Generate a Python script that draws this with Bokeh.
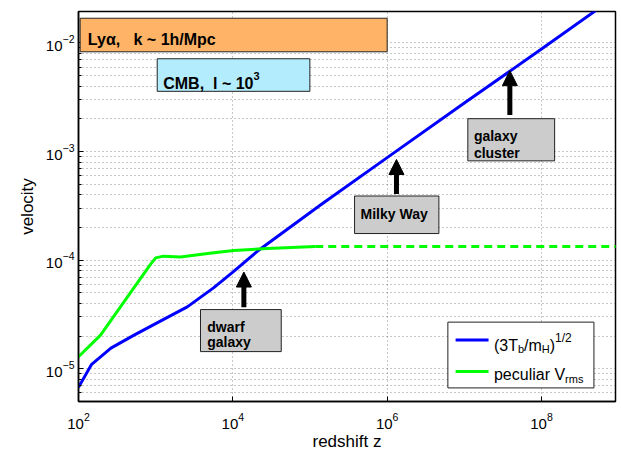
from bokeh.plotting import figure
from bokeh.models import Range1d, FixedTicker, BoxAnnotation, Label, Arrow, NormalHead
from bokeh.embed import file_html
from bokeh.resources import INLINE

# ---- data ----
z_tb = [100, 148, 263, 525, 1150, 2570, 5620, 1.0e4, 2.14e4, 1.38e5, 1.0e6, 1.0e7, 1.0e8, 5.1e8]
v_tb = [6.76e-6, 1.10e-5, 1.55e-5, 2.04e-5, 2.75e-5, 3.72e-5, 5.56e-5, 7.76e-5, 1.23e-4,
        3.24e-4, 8.8e-4, 2.8e-3, 8.8e-3, 2.0e-2]

z_pec = [100, 193, 851, 1000, 1260, 2090, 5010, 1.02e4, 2.8e4, 1.17e5]
v_pec = [1.29e-5, 2.04e-5, 9.1e-5, 1.05e-4, 1.09e-4, 1.07e-4, 1.16e-4, 1.23e-4, 1.28e-4, 1.34e-4]

z_pec_ext = [1.17e5, 1.0e9]
v_pec_ext = [1.34e-4, 1.34e-4]

x_ticks = [1e2, 1e4, 1e6, 1e8]
y_ticks = [1e-5, 1e-4, 1e-3, 1e-2]

FONT = "Liberation Sans"

p = figure(width=619, height=453, x_axis_type="log", y_axis_type="log",
           x_range=Range1d(1e2, 9.1e8), y_range=Range1d(5e-6, 1.95e-2),
           output_backend="svg", toolbar_location=None,
           min_border_left=78, min_border_right=4, min_border_top=11, min_border_bottom=46,
           x_axis_label="redshift z", y_axis_label="velocity")
p.background_fill_color = "white"
p.border_fill_color = "white"
p.outline_line_color = "black"
p.outline_line_width = 1.5
p.outline_line_alpha = 1.0

y_minor = [k * t / 10 for t in y_ticks + [1e-1] for k in range(2, 10)]
p.xaxis.ticker = FixedTicker(ticks=x_ticks, minor_ticks=[])
p.yaxis.ticker = FixedTicker(ticks=y_ticks, minor_ticks=y_minor)

for ax in (p.xaxis, p.yaxis):
    ax.axis_line_width = 1.5
    ax.axis_line_color = "black"
    ax.major_tick_in = 5
    ax.major_tick_out = 0
    ax.minor_tick_in = 3
    ax.minor_tick_out = 0
    ax.major_tick_line_color = "black"
    ax.minor_tick_line_color = "black"
    ax.major_label_text_font = FONT
    ax.major_label_text_font_size = "15px"
    ax.major_label_text_color = "black"
    ax.axis_label_text_font = FONT
    ax.axis_label_text_font_size = "17px"
    ax.axis_label_text_font_style = "normal"
    ax.axis_label_text_color = "black"
p.xaxis.major_label_standoff = 11
p.xaxis.axis_label_standoff = 0
p.yaxis.major_label_standoff = 4
p.yaxis.axis_label_standoff = 6

for g in (p.xgrid, p.ygrid):
    g.grid_line_color = "#333333"
    g.grid_line_dash = "1 3"
    g.grid_line_alpha = 0.55
    g.grid_line_width = 1
p.ygrid.minor_grid_line_color = "#333333"
p.ygrid.minor_grid_line_dash = "1 3"
p.ygrid.minor_grid_line_alpha = 0.55

# ---- curves ----
p.line(z_tb, v_tb, line_color="#0000ff", line_width=3, line_join="round")
p.line(z_pec, v_pec, line_color="#00ff00", line_width=3, line_join="round")
p.line(z_pec_ext, v_pec_ext, line_color="#00ff00", line_width=3, line_dash="8 5")

# ---- annotation boxes ----
def box(l, r, t, b, color):
    p.add_layout(BoxAnnotation(left=l, right=r, top=t, bottom=b, fill_color=color,
                               fill_alpha=1.0, line_color="#222222", line_width=1, line_alpha=1.0))

box(1.05e2, 1.0e6, 1.69e-2, 8.3e-3, "#ffb366")      # Ly-alpha
box(1047, 9.96e4, 7.16e-3, 3.59e-3, "#b3ecfc")      # CMB
box(1.11e7, 1.48e8, 2.01e-3, 8.22e-4, "#cccccc")    # galaxy cluster
box(3.78e5, 4.68e6, 3.90e-4, 1.76e-4, "#cccccc")    # Milky Way
box(3.81e3, 4.24e4, 3.51e-5, 1.44e-5, "#cccccc")    # dwarf galaxy
box(6.12e6, 4.78e8, 2.69e-5, 6.67e-6, "white")      # legend

# ---- texts ----
W_REG = {'(': .333, ')': .333, '3': .556, 'T': .611, '/': .278, 'm': .833, 'b': .556, 'H': .722,
         '1': .556, '2': .556, 'p': .556, 'e': .556, 'c': .5, 'u': .556, 'l': .222, 'i': .222,
         'a': .556, 'r': .333, ' ': .278, 'V': .667, 's': .5}
W_BOLD = {'C': .722, 'M': .833, 'B': .722, ',': .278, '\u00a0': .278, 'l': .278, '~': .584,
          '1': .556, '0': .556, '3': .556}


def text_width(s, size, bold):
    table = W_BOLD if bold else W_REG
    return sum(table.get(ch, .556) for ch in s) * size


def rich(x, y, pieces, bold=False):
    off = 0.0
    for s, size, dy in pieces:
        p.add_layout(Label(x=x, y=y, x_offset=off, y_offset=dy, text=s, text_font=FONT,
                           text_font_size=f"{size}px",
                           text_font_style="bold" if bold else "normal",
                           text_baseline="alphabetic", text_align="left", text_color="black"))
        off += text_width(s, size, bold)


NB = "\u00a0"
rich(132, 1.087e-2, [("Ly\u03b1," + NB * 3 + "k" + NB + "~" + NB + "1h/Mpc", 16, 0)], bold=True)
rich(1253, 4.24e-3, [("CMB," + NB * 2 + "l" + NB + "~" + NB + "10", 16, 0), ("3", 11, 7)], bold=True)
rich(1.33e7, 1.39e-3, [("galaxy", 14, 0)], bold=True)
rich(1.33e7, 9.8e-4, [("cluster", 14, 0)], bold=True)
rich(4.52e5, 2.69e-4, [("Milky" + NB + "Way", 14, 0)], bold=True)
rich(4.66e3, 2.43e-5, [("dwarf", 14, 0)], bold=True)
rich(4.66e3, 1.75e-5, [("galaxy", 14, 0)], bold=True)

# ---- arrows ----
for zx, v0, v1 in [(3.89e7, 2.17e-3, 5.56e-3), (1.32e6, 4.07e-4, 8.46e-4), (1.39e4, 3.68e-5, 7.78e-5)]:
    p.add_layout(Arrow(end=NormalHead(size=15, fill_color="black", line_color="black"),
                       x_start=zx, y_start=v0, x_end=zx, y_end=v1,
                       line_width=5, line_color="black"))

# ---- legend ----
p.add_layout(Arrow(start=None, end=None, x_start=7.71e6, x_end=2.06e7, y_start=1.84e-5, y_end=1.84e-5,
                   line_color="#0000ff", line_width=3))
p.add_layout(Arrow(start=None, end=None, x_start=7.71e6, x_end=2.06e7, y_start=9.45e-6, y_end=9.45e-6,
                   line_color="#00ff00", line_width=3))
rich(2.42e7, 1.65e-5, [("(3T", 16, 0), ("b", 11, -4), ("/m", 16, 0), ("H", 11, -4), (")", 16, 0), ("1/2", 12, 7)])
rich(2.42e7, 8.81e-6, [("peculiar V", 16, 0), ("rms", 11, -4)])

open("out.html", "w").write(file_html(p, INLINE))
